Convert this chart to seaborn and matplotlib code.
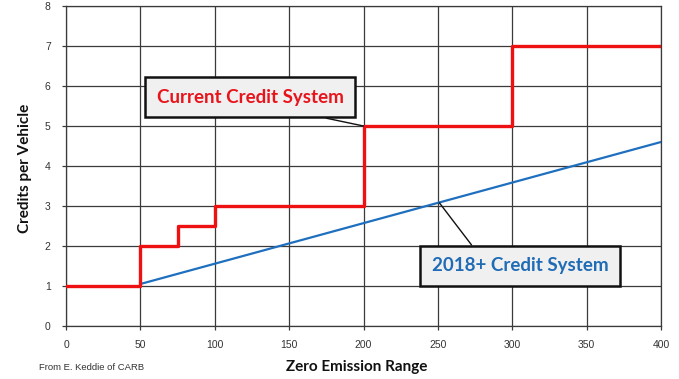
import matplotlib
matplotlib.use("Agg")
import matplotlib.pyplot as plt
import seaborn as sns
import pandas as pd

# data
current_range = [0, 50, 75, 100, 200, 300, 400]
current_credits = [1, 2, 2.5, 3, 5, 7, 7]
new_range = [50, 400]
new_credits = [1.05, 4.6]
x_ticks = [0, 50, 100, 150, 200, 250, 300, 350, 400]
y_ticks = [0, 1, 2, 3, 4, 5, 6, 7, 8]

sns.set_theme(style="white")
plt.rcParams['font.family'] = ['Lato', 'DejaVu Sans']

fig = plt.figure(figsize=(6.79, 3.79), dpi=100)
ax = fig.add_axes([66/679, 1-326/379, (661-66)/679, (326-6)/379])

grid_c = "#3a3a3a"
sns.lineplot(x=new_range, y=new_credits, ax=ax, color="#1f6fbf", linewidth=1.6, zorder=3)
sns.lineplot(x=current_range, y=current_credits, ax=ax, color="#ee1111", linewidth=2.4,
             drawstyle="steps-post", zorder=4)

ax.set_xlim(0, 400)
ax.set_ylim(0, 8)
ax.set_xticks(x_ticks)
ax.set_yticks(y_ticks)
ax.grid(True, color=grid_c, linewidth=0.9)
for s in ax.spines.values():
    s.set_color(grid_c)
    s.set_linewidth(0.9)
narrow = ['Liberation Sans Narrow', 'Liberation Sans', 'DejaVu Sans']
ax.tick_params(axis="both", which="both", length=3, width=0.9, color=grid_c,
               labelsize=7.5, labelcolor="#333333", direction="out",
               left=True, bottom=True)
ax.tick_params(axis="y", pad=8)
ax.tick_params(axis="x", pad=7)
ax.set_xticklabels([str(v) for v in x_ticks], family=narrow)
ax.set_yticklabels([str(v) for v in y_ticks], family=narrow)
ax.set_xlabel("")
ax.set_ylabel("")

fig.text(357/679, 1-367/379, "Zero Emission Range", ha="center", va="center",
         fontsize=11, fontweight="bold", color="#111111")
fig.text(25/679, 1-168/379, "Credits per Vehicle", ha="center", va="center",
         rotation=90, fontsize=11, fontweight="bold", color="#111111")
fig.text(39/679, 1-367/379, "From E. Keddie of CARB", ha="left", va="center",
         fontsize=6.8, color="#333333", family=narrow)

box = dict(boxstyle="square,pad=0.62", facecolor="#f0f0f0", edgecolor="#111111", linewidth=1.8)
ax.annotate("Current Credit System", xy=(200, 5), xytext=(123.7, 5.72),
            ha="center", va="center", fontsize=13.5, fontweight="bold", color="#e8141c",
            bbox=box, zorder=6,
            arrowprops=dict(arrowstyle="-", color="#111111", lw=1.0,
                            relpos=(0.59, 0.0), shrinkA=0, shrinkB=0))
ax.annotate("2018+ Credit System", xy=(251, 3.08), xytext=(305.2, 1.5),
            ha="center", va="center", fontsize=13.5, fontweight="bold", color="#1f6bb5",
            bbox=box, zorder=6,
            arrowprops=dict(arrowstyle="-", color="#111111", lw=1.0,
                            relpos=(0.28, 1.0), shrinkA=0, shrinkB=0))

fig.savefig("out.png", dpi=100, facecolor="white")
